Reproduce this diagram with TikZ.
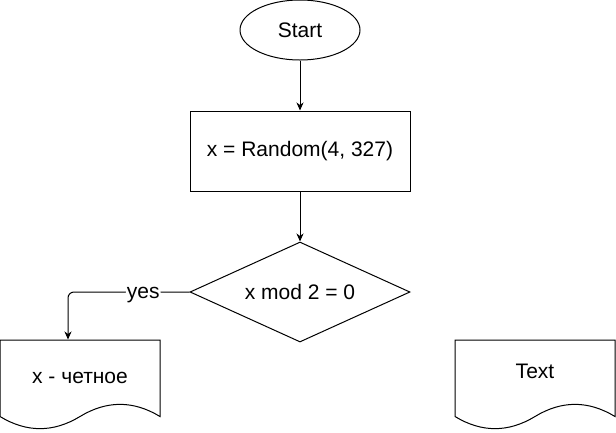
\documentclass[tikz,border=0pt]{standalone}
\usepackage{fontspec}
\setmainfont{Liberation Sans}
\usetikzlibrary{shapes.geometric,arrows.meta,positioning}

\begin{document}
\begin{tikzpicture}[x=1pt,y=-1pt,line width=1pt,
    >={Stealth[length=8pt,width=7pt,inset=2.5pt]},
    every node/.style={font=\fontsize{21}{25}\selectfont},
    node distance=50pt,
    startbox/.style={ellipse,draw,minimum width=120pt,minimum height=60pt,inner sep=0pt},
    procbox/.style={rectangle,draw,minimum width=220pt,minimum height=80pt},
    decbox/.style={diamond,draw,aspect=2.2,minimum width=220pt,minimum height=100pt,inner sep=0pt},
    docbox/.style={rectangle,minimum width=160pt,minimum height=90pt,text height=0pt},
    flow/.style={->}]
      % fix the page to the reference size
      \useasboundingbox (0,0) rectangle (616,432);

      % main column
      \node[startbox] (start) at (300,30) {Start};
      \node[procbox, below=of start] (rand) {x = Random(4, 327)};
      \node[decbox, below=of rand] (test) {x mod 2 = 0};

      % document blocks
      \node[docbox, text depth=3.4pt] (even) at (80,385) {x - четное};
      \node[docbox, text depth=13.4pt] (other) at (535,385) {Text};

      % document outline with wavy bottom
      \foreach \d in {even,other}
        \draw[shift={(\d.center)}] (-80,-45) -- (80,-45) -- (80,31.5)
          .. controls (53.3,15.3) and (26.7,15.3) .. (0,31.5)
          .. controls (-26.7,47.7) and (-53.3,47.7) .. (-80,31.5) -- cycle;

      % connectors
      \draw[flow] (start) -- (rand);
      \draw[flow] (rand) -- (test);
      \draw[flow, rounded corners=6pt] (test.west) -| node[pos=0.19, yshift=-3pt, fill=white, inner sep=1pt] (yes) {yes} ([xshift=-12pt]even.north);
    \end{tikzpicture}
\end{document}
